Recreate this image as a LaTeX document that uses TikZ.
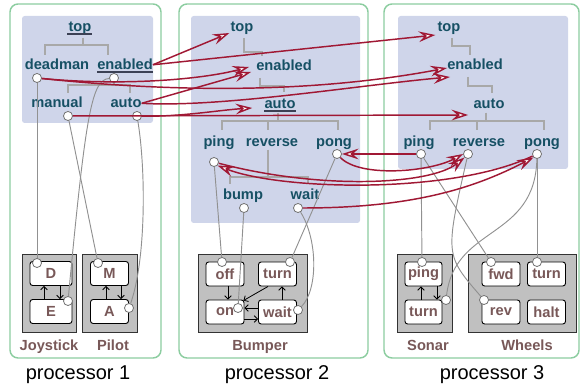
\documentclass[tikz,border=0pt]{standalone}
\usepackage{fontspec}
\setmainfont{Liberation Sans}
\usetikzlibrary{arrows.meta,calc}
\definecolor{procgreen}{RGB}{140,205,160}
\definecolor{treebg}{RGB}{207,213,234}
\definecolor{treetext}{RGB}{22,80,100}
\definecolor{bargray}{RGB}{168,168,168}
\definecolor{ulgray}{RGB}{60,65,85}
\definecolor{linkred}{RGB}{160,24,52}
\definecolor{wiregray}{RGB}{145,145,145}
\definecolor{portgray}{RGB}{115,115,115}
\definecolor{blockgray}{RGB}{192,192,192}
\definecolor{stbrown}{RGB}{120,88,88}

\begin{document}
\begin{tikzpicture}[x=0.75pt,y=-0.75pt,
  tn/.style={anchor=base,inner sep=0pt,text=treetext,font=\fontsize{11}{13}\selectfont\bfseries},
  bar/.style={draw=bargray,line width=2pt},
  uline/.style={draw=ulgray,line width=0.8pt},
  port/.style={circle,draw=portgray,fill=white,line width=0.6pt,minimum size=6.8pt,inner sep=0pt},
  stbox/.style={draw,fill=white,rounded corners=2pt,line width=0.7pt,minimum width=28.5pt,minimum height=18pt,inner sep=0pt,text=stbrown,font=\fontsize{11}{13}\selectfont\bfseries},
  blk/.style={fill=blockgray,draw=black!80,line width=0.7pt},
  blabel/.style={anchor=base,text=stbrown,font=\fontsize{11}{13}\selectfont\bfseries},
  plabel/.style={anchor=base,font=\fontsize{15}{18}\selectfont},
  wire/.style={draw=wiregray,line width=0.7pt},
  trans/.style={line width=0.6pt,-{Straight Barb[length=2.5pt,width=5pt]}},
  link/.style={draw=linkred,line width=1.1pt,-{Stealth[length=12.5pt,width=8pt,inset=4.5pt,fill=white]}}]
\useasboundingbox (0,0) rectangle (582,391);

% Processor panels
\draw[procgreen,line width=1.1pt,rounded corners=6pt] (10,4) rectangle (161,358);
\draw[procgreen,line width=1.1pt,rounded corners=6pt] (179,4) rectangle (368,358);
\draw[procgreen,line width=1.1pt,rounded corners=6pt] (384,4) rectangle (579,358);
\fill[treebg,rounded corners=2pt] (22,16) rectangle (153,123);
\fill[treebg,rounded corners=2pt] (191,16) rectangle (360,223);
\fill[treebg,rounded corners=2pt] (398,16) rectangle (568,169);

% Tree of processor 1
\node[tn] (topA) at (80,32) {top};
\node[tn] (deadA) at (57,70) {deadman};
\node[tn] (enA) at (125,70) {enabled};
\node[tn] (manA) at (57,108) {manual};
\node[tn] (autoA) at (126,108) {auto};
\draw[bar] ($(topA.base)+(3,6)$) -- ++(0,7) -| ($(deadA.base)+(-12,-15)$);
\draw[bar] ($(topA.base)+(3,6)$) -- ++(0,7) -| ($(enA.base)+(-17,-15)$);
\draw[bar] ($(enA.base)+(-11,10)$) -- ++(0,5) -| ($(manA.base)+(11,-15)$);
\draw[bar] ($(enA.base)+(-11,10)$) -- ++(0,5) -| ($(autoA.base)+(4,-15)$);
\draw[uline] ($(topA.base west)+(-1,2)$) -- ($(topA.base east)+(0,2)$);
\draw[uline] ($(enA.base west)+(0,2)$) -- ($(enA.base east)+(0,2)$);

% Tree of processor 2
\node[tn] (topB) at (242,32) {top};
\node[tn] (enB) at (284,71) {enabled};
\node[tn] (autoB) at (280,109) {auto};
\node[tn] (pingB) at (219,147) {ping};
\node[tn] (revB) at (272,147) {reverse};
\node[tn] (pongB) at (334,147) {pong};
\node[tn] (bumpB) at (243,200) {bump};
\node[tn] (waitB) at (305,200) {wait};
\draw[bar] ($(topB.base)+(2,6)$) -- ++(0,14) -| ($(enB.base)+(-22,-15)$);
\draw[bar] ($(enB.base)+(-24,7)$) -- ++(0,8) -| ($(autoB.base)+(4,-17)$);
\draw[bar] ($(autoB.base)+(-2,4)$) -- ++(0,8) -| ($(pingB.base)+(3,-17)$);
\draw[bar] ($(autoB.base)+(-2,4)$) -- ++(0,8) -| ($(revB.base)+(-4,-17)$);
\draw[bar] ($(autoB.base)+(-2,4)$) -- ++(0,8) -| ($(pongB.base)+(4,-17)$);
\draw[bar] ($(revB.base)+(-4,3)$) -- ++(0,27) -| ($(bumpB.base)+(-13,-16)$);
\draw[bar] ($(revB.base)+(-4,3)$) -- ++(0,27) -| ($(waitB.base)+(3,-16)$);
\draw[uline] ($(autoB.base west)+(0,2)$) -- ($(autoB.base east)+(0,2)$);

% Tree of processor 3
\node[tn] (topC) at (449,32) {top};
\node[tn] (enC) at (475,70) {enabled};
\node[tn] (autoC) at (489,109) {auto};
\node[tn] (pingC) at (419,147) {ping};
\node[tn] (revC) at (479,147) {reverse};
\node[tn] (pongC) at (542,147) {pong};
\draw[bar] ($(topC.base)+(3,6)$) -- ++(0,8) -| ($(enC.base)+(-5,-15)$);
\draw[bar] ($(enC.base)+(-7,7)$) -- ++(0,9) -| ($(autoC.base)+(3,-16)$);
\draw[bar] ($(autoC.base)+(-3,4)$) -- ++(0,8) -| ($(pingC.base)+(11,-17)$);
\draw[bar] ($(autoC.base)+(-3,4)$) -- ++(0,8) -| ($(revC.base)+(-2,-17)$);
\draw[bar] ($(autoC.base)+(-3,4)$) -- ++(0,8) -| ($(pongC.base)+(2,-17)$);

% Machines
\draw[blk] (22,254) rectangle (76,332);
\draw[blk] (82,254) rectangle (137,332);
\draw[blk] (198,254) rectangle (307,332);
\draw[blk] (397,254) rectangle (452,332);
\draw[blk] (468,254) rectangle (576,332);
\node[stbox,minimum width=31.5pt] (stD) at (51,273.5) {D};
\node[stbox,minimum width=31.5pt] (stE) at (51,311.5) {E};
\node[stbox] (stM) at (109.5,273.5) {M};
\node[stbox] (stA) at (109.5,311.5) {A};
\node[stbox] (stOff) at (225,274) {off};
\node[stbox] (stTurnB) at (277.5,274) {turn};
\node[stbox] (stOn) at (225,312) {on};
\node[stbox] (stWaitB) at (277.5,312) {wait};
\node[stbox,minimum width=27.75pt] (stPingS) at (423.5,274) {ping};
\node[stbox,minimum width=27.75pt] (stTurnS) at (423.5,312) {turn};
\node[stbox] (stFwd) at (501,274) {fwd};
\node[stbox] (stTurnW) at (546.5,274) {turn};
\node[stbox] (stRev) at (501,312) {rev};
\node[stbox] (stHalt) at (546.5,312) {halt};

% Labels
\node[blabel] (lJoy) at (49,351) {Joystick};
\node[blabel] (lPilot) at (113,351) {Pilot};
\node[blabel] (lBump) at (260,351) {Bumper};
\node[blabel] (lSonar) at (428,351) {Sonar};
\node[blabel] (lWheels) at (527,351) {Wheels};
\node[plabel] (p1) at (78,380) {processor 1};
\node[plabel] (p2) at (277,380) {processor 2};
\node[plabel] (p3) at (492,380) {processor 3};

% Ports
\node[port] (cDeadA) at (37,78) {};
\node[port] (cEnA) at (114,78) {};
\node[port] (cManA) at (68,116) {};
\node[port] (cAutoA) at (137,116) {};
\node[port] (cPingB) at (214,162) {};
\node[port] (cPongB) at (337,154) {};
\node[port] (cBumpB) at (244,208) {};
\node[port] (cWaitB) at (298,208) {};
\node[port] (cPingC) at (421,154) {};
\node[port] (cRevC) at (468,154) {};
\node[port] (cPongC) at (537,154) {};
\node[port] (cD) at (37,263) {};
\node[port] (cE) at (68,301) {};
\node[port] (cM) at (98,263) {};
\node[port] (cA) at (129,308) {};
\node[port] (cOff) at (222,262) {};
\node[port] (cTurnB) at (290,262) {};
\node[port] (cOn) at (238,308) {};
\node[port] (cWaitS) at (298,310) {};
\node[port] (cPingS) at (422,262) {};
\node[port] (cTurnS) at (446,300) {};
\node[port] (cFwd) at (491,262) {};
\node[port] (cTurnW) at (537,262) {};
\node[port] (cRev) at (484,300) {};

% Wires down to the machines
\draw[wire] (cDeadA) -- (cD);
\draw[wire] (cEnA) .. controls (92,80) and (86,110) .. (cE);
\draw[wire] (cManA) -- (cM);
\draw[wire] (cAutoA) .. controls (146,170) and (146,260) .. (cA);
\draw[wire] (cPingB) -- (cOff);
\draw[wire] (cBumpB) -- (cOn);
\draw[wire] (cPongB) -- (cTurnB);
\draw[wire] (cWaitB) .. controls (318,240) and (318,290) .. (cWaitS);
\draw[wire] (cPingC) -- (cPingS);
\draw[wire] (cPingC) -- (cFwd);
\draw[wire] (cRevC) .. controls (445,255) .. (cRev);
\draw[wire] (cPongC) .. controls (535,240) and (455,225) .. (cTurnS);
\draw[wire] (cPongC) -- (cTurnW);

% Transitions
\draw[trans] ($(stE.north)+(-7,0)$) -- ($(stD.south)+(-7,0)$);
\draw[trans] ($(stD.south)+(9,0)$) -- ($(stE.north)+(9,0)$);
\draw[trans] ($(stA.north)+(-3.5,0)$) -- ($(stM.south)+(-3.5,0)$);
\draw[trans] ($(stM.south)+(11.5,0)$) -- ($(stA.north)+(11.5,0)$);
\draw[trans] ($(stOff.south)+(3,0)$) -- ($(stOn.north)+(3,0)$);
\draw[trans] ($(stTurnB.south)+(-9.5,0)$) -- ($(stOn.north east)+(-1,1)$);
\draw[trans] ($(stWaitB.north)+(4.5,0)$) -- ($(stTurnB.south)+(4.5,0)$);
\draw[trans] ($(stOn.east)+(0,7)$) -- ($(stWaitB.west)+(0,7)$);
\draw[trans] ($(stWaitB.west)+(0,-4)$) -- ($(stOn.east)+(0,-4)$);
\draw[trans] ($(stTurnS.north)+(-2.5,0)$) -- ($(stPingS.south)+(-2.5,0)$);
\draw[trans] ($(stPingS.south)+(13.5,0)$) -- ($(stTurnS.north)+(13.5,0)$);

% Links between processors
\draw[link] (enA.east) -- ($(topB.base west)+(-1,1)$);
\draw[link] (enA.east) -- ($(topC.base west)+(-2,3)$);
\draw[link] (cDeadA) .. controls (120,86) and (200,80) .. ($(enB.base west)+(-7,-4)$);
\draw[link] (cDeadA) .. controls (200,95) and (330,90) .. ($(enC.base west)+(0,-2)$);
\draw[link] (autoA.east) -- ($(enB.base west)+(-5,1)$);
\draw[link] (autoA.east) .. controls (220,108) and (360,85) .. ($(enC.base west)+(3,7)$);
\draw[link] (cManA) -- ($(autoC.base west)+(-5,6)$);
\draw[link] (cAutoA) .. controls (180,117) and (220,110) .. ($(autoB.base west)+(-12,-1)$);
\draw[link] (cPingC) -- (cPongB);
\draw[link] (cPongB) .. controls (360,178) and (430,172) .. (cRevC.west);
\draw[link] (cPingB) .. controls (320,190) and (430,185) .. (cRevC.south west);
\draw[link] (cPongC) .. controls (450,195) and (280,190) .. (cPingB.south east);
\draw[link] (cWaitB) .. controls (420,208) and (480,185) .. (cPongC.south west);
\end{tikzpicture}
\end{document}
